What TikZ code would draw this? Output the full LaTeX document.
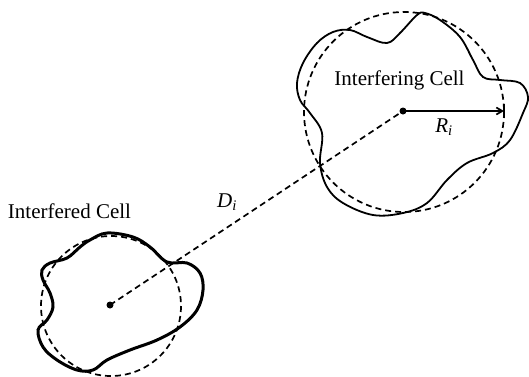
\documentclass[tikz,border=0pt]{standalone}
\usepackage{fontspec}
\setmainfont{Liberation Serif}
\usetikzlibrary{arrows.meta}
\begin{document}
\begin{tikzpicture}[x=1pt,y=-1pt,
  dsh/.style={line width=1.7pt,dash pattern=on 6pt off 4pt},
  bnd/.style={line width=1.8pt},
  bndthick/.style={line width=3pt},
  lbl/.style={font=\fontsize{21}{25}\selectfont,inner sep=0pt,anchor=base},
  dotnode/.style={circle,fill=black,inner sep=0pt,minimum size=7pt}]
\useasboundingbox (0,0) rectangle (529,376);
% Interfering cell
\node[dotnode] (c1) at (403,111) {};
\draw[dsh] (404,112) circle (100);
\draw[bnd] plot[smooth cycle,tension=0.6] coordinates {
 (425,13) (440,20) (460,37) (473,60) (483,77) (500,80) (520,83) (528,97)
 (523,113) (510,140) (493,153) (467,163) (447,180) (427,203) (403,213)
 (373,215) (343,203) (327,187) (320,163) (322,133) (310,113) (300,100)
 (297,83) (303,63) (317,43) (333,32) (350,30) (367,37) (387,43) (400,33) (417,15)};
\node[lbl] (t1) at (399.5,85) {Interfering Cell};
\coordinate (re) at (504,111);
\draw[line width=1.7pt,-{Straight Barb[length=6pt,width=7pt]}] (c1.center) -- (re);
\draw[line width=1.5pt] (504,104) -- (504,118);
\node[lbl] (ri) at (444,132) {\textit{R}\textsubscript{\textit{i}}};
% Interfered cell
\node[dotnode] (c2) at (110,305) {};
\draw[dsh] (111,306) circle (70);
\draw[bndthick] plot[smooth cycle,tension=0.6] coordinates {
 (90,240) (107,233) (133,237) (150,247) (167,262) (187,263) (200,273)
 (203,290) (197,310) (180,327) (157,340) (130,350) (107,360) (93,370)
 (77,370) (57,360) (43,347) (38,330) (47,320) (53,307) (50,293)
 (43,280) (42,270) (50,263) (67,258) (80,247)};
\node[lbl] (t2) at (69.5,218) {Interfered Cell};
\draw[dsh] (c2.center) -- (c1.center);
\node[lbl] (di) at (227,207) {\textit{D}\textsubscript{\textit{i}}};
\end{tikzpicture}
\end{document}
